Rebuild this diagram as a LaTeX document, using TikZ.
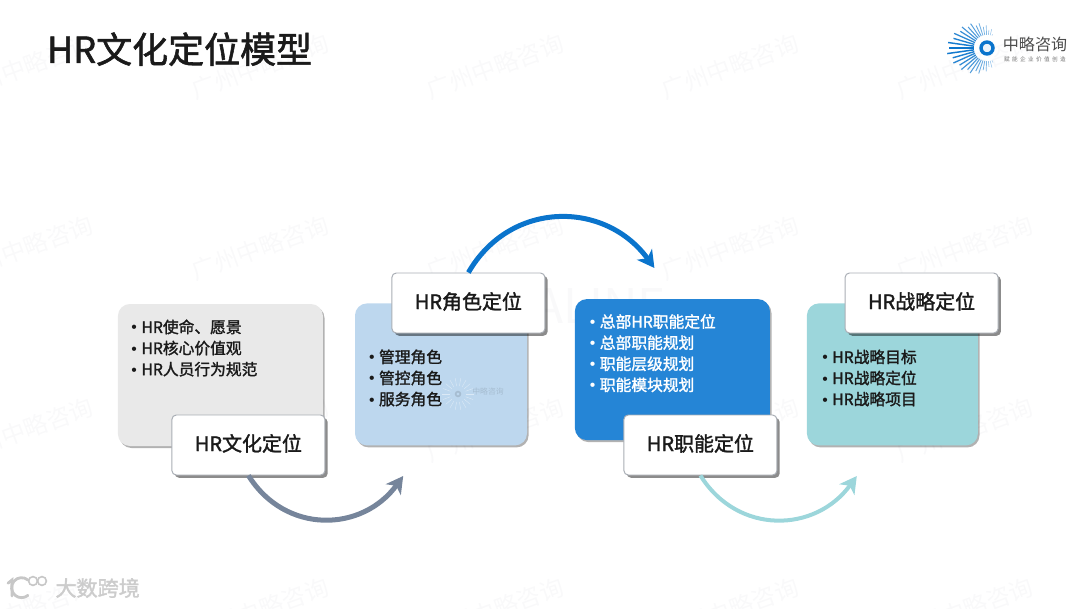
\documentclass[tikz,border=0pt]{standalone}
\usepackage{fontspec}
\usepackage{xcolor}
\usetikzlibrary{arrows.meta,shadows}
\setmainfont{Noto Sans CJK SC}
\newfontfamily\medfont[FakeBold=1.6]{Noto Sans CJK SC}
\newfontfamily\dotfont{Liberation Sans}
\newcommand{\hrdot}{\makebox[7.1pt][l]{\dotfont •}}
\definecolor{hrgray}{HTML}{E9E9E9}
\definecolor{hrsky}{HTML}{BDD7EE}
\definecolor{hrblue}{HTML}{2585D6}
\definecolor{hrteal}{HTML}{9CD6DB}
\definecolor{hrslate}{HTML}{76859B}
\definecolor{hrarc}{HTML}{0A74CC}
\definecolor{hrink}{HTML}{1A1A1A}
\definecolor{hredge}{HTML}{A9AEB5}
\definecolor{hrmark}{HTML}{F9F9FA}

\begin{document}
\begin{tikzpicture}[
    card/.style={
        rounded corners=0.3cm,
        inner sep=0pt,
        drop shadow={shadow xshift=0.04cm, shadow yshift=-0.05cm, opacity=0.3, fill=black}
    },
    tag/.style={
        draw=hredge,
        fill=white,
        line width=0.7pt,
        rounded corners=0.11cm,
        minimum width=3.825cm,
        minimum height=1.5cm,
        inner sep=0pt,
        text depth=0.12cm,
        text=hrink,
        font=\medfont\fontsize{14.2}{17}\selectfont,
        drop shadow={shadow xshift=0.07cm, shadow yshift=-0.07cm, opacity=0.45, fill=black}
    },
    points/.style={
        anchor=west,
        align=left,
        inner sep=0pt,
        text=hrink,
        font=\medfont\fontsize{11.2}{15}\selectfont
    },
    swing/.style={
        line width=0.125cm,
        -{Stealth[length=0.42cm, width=0.46cm, inset=0.12cm]}
    },
    stamp/.style={
        text=hrmark,
        rotate=20,
        inner sep=0pt,
        font=\fontsize{17}{20}\selectfont
    }
]

\useasboundingbox (0,0) rectangle (27,15.2);

% ============================================================
% Faint background stamps
% ============================================================

\foreach \col in {0.62,6.5,12.38,18.25,24.12} {
    \foreach \row in {13.53,9.0,4.45,-0.05} {
        \node[stamp] at (\col,\row) {广州中略咨询};
    }
}

\node[text=hrmark, inner sep=0pt, font=\fontsize{34}{36}\selectfont] (alinemark) at (15.0,7.55) {ALINE};

% ============================================================
% Title
% ============================================================

\node[anchor=west, inner sep=0pt, text=hrink, font=\medfont\fontsize{25.6}{30}\selectfont] (maintitle) at (1.17,13.97)
    {HR文化定位模型};

% ============================================================
% Logo, top right
% ============================================================

\foreach \ang in {68,76,...,296} {
    \pgfmathsetmacro{\off}{abs(\ang-182)}
    \pgfmathsetmacro{\len}{1.0-0.0052*\off+0.07*mod(\ang,16)/8-0.07}
    \pgfmathsetmacro{\shade}{100-\off*0.55}
    \pgfmathsetmacro{\thick}{0.3+0.8*(1-\off/114)}
    \draw[color=hrarc!\shade!white, line width=\thick pt] (24.675,14.0) ++(\ang:0.33) -- ++(\ang:\len-0.33);
}

\node[circle, draw=hrarc, line width=0.085cm, fill=white!70!hrsky, minimum size=0.3cm, inner sep=0pt] (logoring) at (24.675,14.0) {};

\node[inner sep=0pt, text=black!70, font=\fontsize{11.4}{13}\selectfont] (logoname) at (25.875,14.08)
    {中略咨询};

\node[inner sep=0pt, text=black!55, font=\fontsize{4}{5}\selectfont] (logoline) at (25.875,13.72)
    {赋\hspace{1.7pt}能\hspace{1.7pt}企\hspace{1.7pt}业\hspace{1.7pt}价\hspace{1.7pt}值\hspace{1.7pt}创\hspace{1.7pt}造};

% ============================================================
% Cards
% ============================================================

\node[card, fill=hrgray, minimum width=5.125cm, minimum height=3.55cm] (culturecard) at (5.51,5.825) {};
\node[card, fill=hrsky, minimum width=4.3cm, minimum height=3.55cm] (rolecard) at (11.025,5.84) {};
\node[card, fill=hrblue, minimum width=4.875cm, minimum height=3.525cm] (functioncard) at (16.81,5.96) {};
\node[card, fill=hrteal, minimum width=4.275cm, minimum height=3.55cm] (strategycard) at (22.31,5.84) {};

% ============================================================
% Small stamp inside the second card
% ============================================================

\foreach \ang in {0,20,...,340} {
    \draw[white!45!hrsky, line width=0.3pt] (11.45,5.35) ++(\ang:0.2) -- ++(\ang:0.2);
}
\node[circle, draw=black!12!hrsky, line width=0.04cm, minimum size=0.12cm, inner sep=0pt] (stampring) at (11.45,5.35) {};
\node[inner sep=0pt, text=black!12!hrsky, font=\fontsize{5.6}{7}\selectfont] (stampname) at (12.2,5.4) {中略咨询};

% ============================================================
% Card texts
% ============================================================

\node[points] (culturepoints) at (3.28,6.5) {
    \hrdot HR使命、愿景\\
    \hrdot HR核心价值观\\
    \hrdot HR人员行为规范
};

\node[points] (rolepoints) at (9.22,5.75) {
    \hrdot 管理角色\\
    \hrdot 管控角色\\
    \hrdot 服务角色
};

\node[points, text=white] (functionpoints) at (14.74,6.37) {
    \hrdot 总部HR职能定位\\
    \hrdot 总部职能规划\\
    \hrdot 职能层级规划\\
    \hrdot 职能模块规划
};

\node[points] (strategypoints) at (20.55,5.75) {
    \hrdot HR战略目标\\
    \hrdot HR战略定位\\
    \hrdot HR战略项目
};

% ============================================================
% Tags
% ============================================================

\node[tag] (culturetag) at (6.21,4.075) {HR文化定位};
\node[tag] (roletag) at (11.71,7.625) {HR角色定位};
\node[tag] (functiontag) at (17.51,4.075) {HR职能定位};
\node[tag] (strategytag) at (23.04,7.625) {HR战略定位};

% ============================================================
% Arcs between the steps
% ============================================================

\coordinate (roletip) at (10.08,3.3);
\coordinate (functiontip) at (16.36,8.5);
\coordinate (strategytip) at (21.42,3.3);

\draw[swing, hrslate] (culturetag.south) to[out=-58, in=-126, looseness=1.15] (roletip);
\draw[swing, hrarc] (roletag.north) to[out=60, in=126, looseness=1.15] (functiontip);
\draw[swing, hrteal, line width=0.1cm] (functiontag.south) to[out=-58, in=-126, looseness=1.15] (strategytip);

% ============================================================
% Mark, bottom left
% ============================================================

\draw[black!22, line width=0.07cm, line cap=round] (0.3,0.3) -- (0.3,0.7) -- (0.2,0.62);
\draw[black!22, line width=0.07cm, line cap=round] (0.7,0.7) arc[start angle=50, end angle=310, radius=0.25];
\node[circle, draw=black!22, line width=0.04cm, minimum size=0.22cm, inner sep=0pt] (markzeroa) at (0.825,0.675) {};
\node[circle, draw=black!22, line width=0.04cm, minimum size=0.22cm, inner sep=0pt] (markzerob) at (1.05,0.675) {};

\node[anchor=west, inner sep=0pt, text=black!20, font=\medfont\fontsize{15}{18}\selectfont] (markname) at (1.38,0.5)
    {大数跨境};

\end{tikzpicture}
\end{document}
